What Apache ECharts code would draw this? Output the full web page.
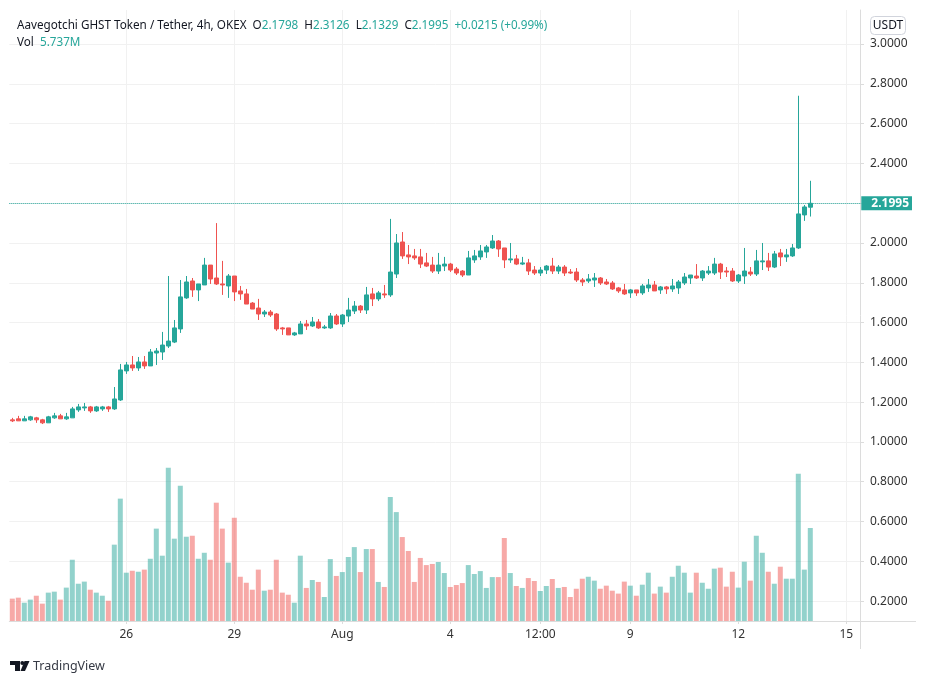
<!DOCTYPE html>
<html>
<head>
<meta charset="utf-8">
<title>GHST / USDT</title>
<script src="https://cdn.jsdelivr.net/npm/echarts@6/dist/echarts.min.js"></script>
<style>
html, body { margin: 0; padding: 0; background: #fff; }
#main { width: 926px; height: 684px; }
</style>
</head>
<body>
<div id="main"></div>
<script>
var FONT = '"Noto Sans", sans-serif';
var UP = '#26a69a';
var DOWN = '#ef5350';

// open, close, low, high
var candles = [
    [1.111,1.106,1.100,1.121],[1.116,1.106,1.106,1.131],[1.106,1.116,1.106,1.131],[1.111,1.126,1.106,1.131],
    [1.121,1.111,1.096,1.126],[1.111,1.096,1.090,1.116],[1.096,1.126,1.096,1.131],[1.121,1.131,1.116,1.146],
    [1.131,1.116,1.116,1.141],[1.116,1.126,1.111,1.146],[1.121,1.166,1.121,1.176],[1.161,1.176,1.151,1.191],
    [1.171,1.176,1.156,1.196],[1.176,1.156,1.146,1.181],[1.156,1.176,1.151,1.181],[1.166,1.176,1.156,1.181],
    [1.176,1.166,1.151,1.181],[1.166,1.216,1.161,1.276],[1.211,1.362,1.206,1.392],[1.357,1.387,1.342,1.402],
    [1.387,1.372,1.357,1.432],[1.372,1.402,1.357,1.427],[1.402,1.382,1.367,1.432],[1.382,1.452,1.382,1.467],
    [1.447,1.457,1.387,1.472],[1.452,1.487,1.412,1.553],[1.482,1.507,1.472,1.834],[1.502,1.573,1.497,1.613],
    [1.568,1.729,1.548,1.814],[1.724,1.804,1.719,1.834],[1.809,1.764,1.729,1.824],[1.764,1.794,1.708,1.794],
    [1.789,1.889,1.789,1.925],[1.889,1.819,1.794,1.889],[1.824,1.794,1.789,2.100],[1.794,1.789,1.739,1.910],
    [1.784,1.834,1.724,1.844],[1.834,1.754,1.708,1.834],[1.759,1.744,1.714,1.784],[1.744,1.693,1.693,1.769],
    [1.698,1.668,1.668,1.703],[1.673,1.643,1.613,1.719],[1.643,1.653,1.628,1.663],[1.653,1.638,1.628,1.663],
    [1.643,1.568,1.558,1.648],[1.573,1.568,1.538,1.578],[1.573,1.538,1.538,1.573],[1.538,1.548,1.533,1.553],
    [1.543,1.593,1.543,1.608],[1.593,1.583,1.563,1.613],[1.583,1.603,1.578,1.628],[1.603,1.573,1.568,1.618],
    [1.573,1.578,1.568,1.588],[1.573,1.633,1.568,1.648],[1.633,1.593,1.588,1.643],[1.593,1.638,1.578,1.643],
    [1.633,1.663,1.603,1.724],[1.658,1.683,1.643,1.708],[1.683,1.663,1.648,1.688],[1.663,1.739,1.643,1.779],
    [1.744,1.719,1.683,1.774],[1.719,1.749,1.708,1.759],[1.744,1.739,1.724,1.789],[1.739,1.854,1.729,2.121],
    [1.844,2.000,1.824,2.045],[2.005,1.935,1.920,2.055],[1.940,1.930,1.894,1.990],[1.935,1.925,1.915,1.970],
    [1.930,1.894,1.874,1.970],[1.900,1.884,1.879,1.950],[1.889,1.859,1.849,1.930],[1.859,1.889,1.844,1.950],
    [1.884,1.894,1.859,1.930],[1.894,1.864,1.854,1.900],[1.869,1.849,1.839,1.879],[1.859,1.839,1.829,1.864],
    [1.839,1.925,1.839,1.960],[1.915,1.935,1.900,1.965],[1.930,1.960,1.915,1.990],[1.955,1.980,1.925,1.990],
    [1.975,2.010,1.970,2.040],[2.010,1.970,1.930,2.015],[1.975,1.915,1.874,1.975],[1.915,1.920,1.900,2.000],
    [1.920,1.894,1.889,1.940],[1.894,1.900,1.889,1.930],[1.900,1.859,1.839,1.920],[1.864,1.849,1.839,1.884],
    [1.849,1.864,1.834,1.879],[1.864,1.884,1.844,1.889],[1.884,1.859,1.844,1.925],[1.859,1.879,1.844,1.889],
    [1.879,1.849,1.834,1.889],[1.854,1.849,1.844,1.869],[1.854,1.814,1.804,1.874],[1.814,1.804,1.784,1.824],
    [1.809,1.819,1.799,1.844],[1.814,1.824,1.779,1.849],[1.824,1.799,1.789,1.829],[1.804,1.794,1.789,1.819],
    [1.799,1.769,1.764,1.809],[1.774,1.759,1.749,1.779],[1.764,1.744,1.739,1.794],[1.749,1.764,1.724,1.769],
    [1.764,1.749,1.734,1.764],[1.749,1.784,1.739,1.794],[1.774,1.789,1.754,1.819],[1.789,1.759,1.759,1.809],
    [1.764,1.779,1.744,1.784],[1.779,1.769,1.744,1.784],[1.769,1.784,1.754,1.819],[1.774,1.804,1.744,1.814],
    [1.799,1.829,1.789,1.849],[1.824,1.839,1.794,1.839],[1.834,1.824,1.819,1.894],[1.824,1.859,1.809,1.864],
    [1.849,1.859,1.839,1.884],[1.849,1.894,1.839,1.925],[1.894,1.854,1.819,1.900],[1.859,1.854,1.829,1.879],
    [1.859,1.809,1.804,1.874],[1.809,1.839,1.799,1.844],[1.834,1.859,1.794,1.975],[1.854,1.844,1.834,1.879],
    [1.844,1.910,1.834,1.965],[1.905,1.910,1.864,2.000],[1.910,1.879,1.859,1.950],[1.879,1.945,1.874,1.960],
    [1.950,1.930,1.884,1.970],[1.930,1.940,1.905,1.970],[1.935,1.975,1.930,1.995],[1.975,2.146,1.970,2.740],
    [2.141,2.181,2.111,2.191],[2.1798,2.1995,2.1329,2.3126]
];

// volume in millions
var volumes = [
    1.38,1.44,1.13,1.32,1.56,1.07,1.75,1.81,1.32,2.06,3.78,2.30,2.43,1.93,1.75,1.56,
    1.25,4.71,7.55,2.98,3.10,3.04,3.17,3.84,5.70,4.03,9.46,5.08,8.35,5.20,5.26,3.84,
    4.21,3.78,7.30,5.70,3.60,6.37,2.73,2.36,1.93,3.17,1.87,1.93,3.78,1.75,1.62,1.13,
    4.03,2.04,2.53,2.41,1.48,3.82,2.78,3.02,3.95,4.56,3.02,4.44,4.44,2.41,2.10,7.65,
    6.72,5.18,4.32,2.41,3.89,3.45,3.52,3.64,2.96,2.10,2.22,2.34,3.45,2.90,3.08,2.04,
    2.71,2.71,5.12,2.96,2.16,2.04,2.65,2.47,1.85,2.16,2.59,2.04,2.10,1.48,
    1.99,2.61,2.73,2.49,1.99,2.18,1.87,1.69,2.43,2.18,1.56,2.24,2.98,1.69,2.12,1.75,
    2.73,3.41,2.98,1.75,2.98,2.36,1.99,3.23,3.29,2.12,3.04,2.06,3.66,2.49,5.26,4.21,
    3.04,2.30,3.35,2.61,2.61,9.09,3.17,5.737
];

// date labels sit on the 4h bar they belong to, the axis runs on past the last bar
var dateLabels = {19:'26', 37:'29', 55:'Aug', 73:'4', 88:'12:00', 103:'9', 121:'12', 139:'15'};
var categories = [];
for (var i = 0; i < 142; i++) {
    categories.push(dateLabels[i] || '');
}
var hasLabel = function (index) {
    return dateLabels[index] !== undefined;
};

var volumeData = volumes.map(function (v, index) {
    var isUp = candles[index][1] >= candles[index][0];
    return {
        value: v,
        itemStyle: { color: isUp ? 'rgba(38,166,154,0.5)' : 'rgba(239,83,80,0.5)' }
    };
});

var priceTicks = [0.2,0.4,0.6,0.8,1.0,1.2,1.4,1.6,1.8,2.0,2.2,2.4,2.6,2.8,3.0];
var AXIS_LINE = '#dcdcdc';
var GRID_LINE = '#f1f1f1';

var chart = echarts.init(document.getElementById('main'));

var option = {
    animation: false,
    backgroundColor: '#ffffff',
    textStyle: { fontFamily: FONT },
    title: {
        left: 17,
        top: 17,
        padding: 0,
        text: '{k|Aavegotchi GHST Token / Tether, 4h, OKEX  O}{v|2.1798}{k|  H}{v|2.3126}{k|  L}{v|2.1329}{k|  C}{v|2.1995}{v|  +0.0215 (+0.99%)}\n{k|Vol  }{v|5.737M}',
        textStyle: {
            fontWeight: 'normal',
            rich: {
                k: { color: '#131722', fontFamily: FONT, fontWeight: 'normal', fontSize: 11.7, lineHeight: 17 },
                v: { color: UP, fontFamily: FONT, fontWeight: 'normal', fontSize: 11.7, lineHeight: 17 }
            }
        }
    },
    grid: { left: 9.3, width: 852, top: 10, height: 611 },
    xAxis: {
        type: 'category',
        data: categories,
        boundaryGap: true,
        axisLine: { lineStyle: { color: AXIS_LINE } },
        axisTick: { show: true, alignWithLabel: true, interval: hasLabel, length: 3, lineStyle: { color: AXIS_LINE } },
        axisLabel: { interval: hasLabel, color: '#333333', fontSize: 12, margin: 8, fontFamily: FONT },
        splitLine: { show: true, alignWithLabel: true, interval: hasLabel, lineStyle: { color: GRID_LINE } }
    },
    yAxis: [{
        type: 'value',
        position: 'right',
        offset: -1.3,
        min: 0.1,
        max: 3.171,
        axisLine: { show: true, lineStyle: { color: AXIS_LINE } },
        axisTick: { show: true, length: 4, customValues: priceTicks, lineStyle: { color: AXIS_LINE } },
        axisLabel: {
            color: '#333333',
            fontSize: 12,
            margin: 10,
            padding: [4, 0, 0, 0],
            fontFamily: FONT,
            customValues: priceTicks,
            formatter: function (v) { return v.toFixed(4); }
        },
        splitLine: { show: true, lineStyle: { color: GRID_LINE } }
    }, {
        type: 'value',
        show: false,
        min: 0,
        max: 37.7,
        splitLine: { show: false }
    }],
    series: [{
        name: 'Vol',
        type: 'bar',
        yAxisIndex: 1,
        barWidth: 5,
        z: 1,
        data: volumeData
    }, {
        name: 'GHST/USDT',
        type: 'candlestick',
        yAxisIndex: 0,
        barWidth: 5,
        z: 2,
        itemStyle: {
            color: UP,
            color0: DOWN,
            borderColor: UP,
            borderColor0: DOWN,
            borderWidth: 1
        },
        data: candles,
        markLine: {
            silent: true,
            symbol: 'none',
            lineStyle: { color: UP, type: 'dotted', width: 1 },
            label: {
                position: 'end',
                distance: 0,
                formatter: '2.1995',
                color: '#ffffff',
                fontWeight: 'bold',
                fontSize: 12,
                fontFamily: FONT,
                backgroundColor: UP,
                padding: [1, 3, 1, 10]
            },
            data: [{ yAxis: 2.1995 }]
        }
    }],
    graphic: [
        { type: 'line', silent: true, shape: { x1: 861, y1: 621.5, x2: 916, y2: 621.5 }, style: { stroke: AXIS_LINE, lineWidth: 1 } },
        { type: 'line', silent: true, shape: { x1: 860.5, y1: 621, x2: 860.5, y2: 649 }, style: { stroke: AXIS_LINE, lineWidth: 1 } },
        { type: 'rect', silent: true, shape: { x: 870.5, y: 16.5, width: 35, height: 18, r: 4 }, style: { fill: '#ffffff', stroke: '#d1d4dc', lineWidth: 1 } },
        { type: 'text', silent: true, x: 888, y: 25.5, style: { text: 'USDT', fill: '#131722', font: '12px ' + FONT, textAlign: 'center', textVerticalAlign: 'middle' } },
        // TradingView logo
        { type: 'polygon', silent: true, shape: { points: [[10,661],[20,661],[20,671],[15,671],[15,665],[10,665]] }, style: { fill: '#131722' } },
        { type: 'circle', silent: true, shape: { cx: 22.3, cy: 663, r: 2 }, style: { fill: '#131722' } },
        { type: 'polygon', silent: true, shape: { points: [[24.5,661],[29.5,661],[25,671],[20.5,671]] }, style: { fill: '#131722' } },
        { type: 'text', silent: true, x: 33, y: 666, style: { text: 'TradingView', fill: '#363a45', font: '12.5px ' + FONT, textVerticalAlign: 'middle' } }
    ]
};
chart.setOption(option);
</script>
</body>
</html>
